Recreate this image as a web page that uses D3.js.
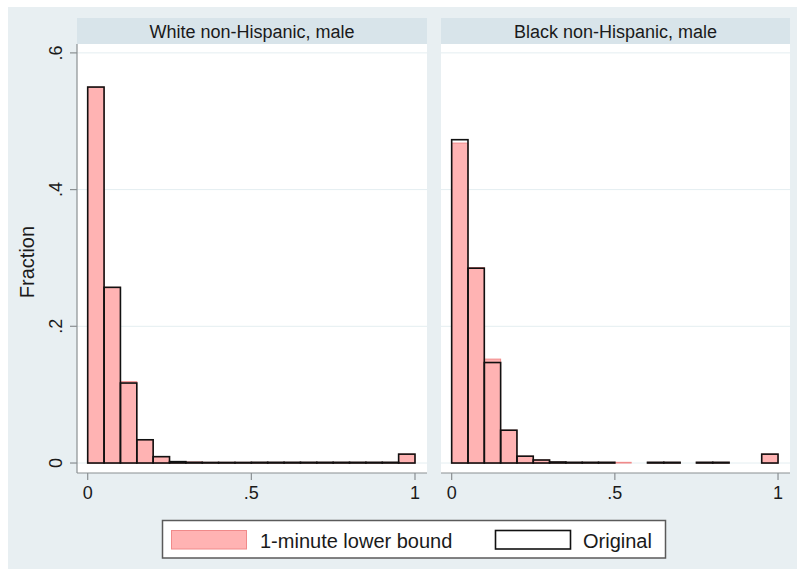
<!DOCTYPE html>
<html><head><meta charset="utf-8">
<script src="https://cdn.jsdelivr.net/npm/d3@7"></script>
<style>html,body{margin:0;padding:0;background:#fff;}svg{display:block;font-family:"Liberation Sans",Arial,Helvetica,sans-serif;}</style>
</head><body><svg id="chart" width="797" height="571"></svg>
<script>
// ---- data ----
const panels = ["White non-Hispanic, male", "Black non-Hispanic, male"];
const binStart = 0, binWidth = 0.05;
const whiteOriginal = [0.550,0.257,0.117,0.034,0.0093,0.002,0.001,0.0008,0.0008,0.0008,0.001,0.001,0.001,0.001,0.001,0.001,0.001,0.001,0.001,0.013];
const whiteLower    = [0.550,0.257,0.119,0.034,0.0093,0.002,0.0015,0.001,0.001,0.001,0.001,0.001,0.001,0.001,0.001,0.001,0.001,0.001,0.001,0.013];
const blackOriginal = [0.473,0.285,0.147,0.048,0.010,0.0044,0.0015,0.001,0.001,0.001,0,0,0.001,0.001,0,0.001,0.001,0,0,0.013];
const blackLower    = [0.468,0.286,0.152,0.048,0.010,0.0044,0.0015,0.001,0.001,0.001,0.001,0,0.001,0.001,0,0.001,0.001,0,0,0.013];
const yTicks = [0, 0.2, 0.4, 0.6];
const yTickLabels = ["0", ".2", ".4", ".6"];
const xTicks = [0, 0.5, 1];
const xTickLabels = ["0", ".5", "1"];
const legendLabels = ["1-minute lower bound", "Original"];
const yTitle = "Fraction";

const seriesByPanel = [
  {lower: whiteLower, orig: whiteOriginal},
  {lower: blackLower, orig: blackOriginal}
];

// ---- layout ----
const svg = d3.select("#chart");
const bg = "#e8eff2", strip = "#d8e4ea", txt = "#1a1a1a";
const pinkFill = "#ffb3b3", pinkStroke = "#f08a8a";

svg.append("rect").attr("x",8).attr("y",7).attr("width",789).attr("height",562).attr("fill",bg);

const plotTop = 44, plotBottom = 473, stripTop = 18;
const panelX = [[77,427],[441,790]];

const y = d3.scaleLinear().domain([-0.0146, 0.613]).range([plotBottom, plotTop]);

panels.forEach((name, p) => {
  const [x0, x1] = panelX[p];
  const x = d3.scaleLinear().domain([-0.0327, 1.0367]).range([x0, x1]);
  const g = svg.append("g");
  // strip
  g.append("rect").attr("x",x0).attr("y",stripTop).attr("width",x1-x0).attr("height",plotTop-stripTop).attr("fill",strip);
  g.append("text").attr("x",(x0+x1)/2).attr("y",37.5).attr("text-anchor","middle")
    .attr("font-size",18).attr("fill",txt).text(name);
  // plot area
  g.append("rect").attr("x",x0).attr("y",plotTop).attr("width",x1-x0).attr("height",plotBottom-plotTop).attr("fill","#fff");
  // gridlines
  g.selectAll(".grid").data(yTicks).join("line")
    .attr("x1",x0).attr("x2",x1).attr("y1",d=>y(d)).attr("y2",d=>y(d))
    .attr("stroke","#e4eef1").attr("stroke-width",1);
  // bars
  const s = seriesByPanel[p];
  const lowerData = s.lower.map((v,i)=>({i,v})).filter(d=>d.v>0);
  const origData = s.orig.map((v,i)=>({i,v})).filter(d=>d.v>0);
  g.selectAll(".lower").data(lowerData).join("rect")
    .attr("x",d=>x(binStart+d.i*binWidth))
    .attr("width",d=>x(binStart+(d.i+1)*binWidth)-x(binStart+d.i*binWidth))
    .attr("y",d=>y(d.v)).attr("height",d=>y(0)-y(d.v))
    .attr("fill",pinkFill).attr("stroke",pinkStroke).attr("stroke-width",1);
  g.selectAll(".orig").data(origData).join("rect")
    .attr("x",d=>x(binStart+d.i*binWidth))
    .attr("width",d=>x(binStart+(d.i+1)*binWidth)-x(binStart+d.i*binWidth))
    .attr("y",d=>y(d.v)).attr("height",d=>y(0)-y(d.v))
    .attr("fill","none").attr("stroke","#111").attr("stroke-width",1.6);
  // x axis
  g.append("line").attr("x1",x0).attr("x2",x1).attr("y1",plotBottom).attr("y2",plotBottom)
    .attr("stroke","#8a8f92").attr("stroke-width",1.2);
  g.selectAll(".xt").data(xTicks).join("line")
    .attr("x1",d=>x(d)).attr("x2",d=>x(d)).attr("y1",plotBottom).attr("y2",plotBottom+7)
    .attr("stroke","#8a8f92").attr("stroke-width",1.2);
  g.selectAll(".xl").data(xTicks).join("text")
    .attr("x",d=>x(d)).attr("y",499).attr("text-anchor","middle")
    .attr("font-size",18).attr("fill",txt).text((d,i)=>xTickLabels[i]);
  // y axis on first panel only
  if (p === 0) {
    g.append("line").attr("x1",x0).attr("x2",x0).attr("y1",plotTop).attr("y2",plotBottom)
      .attr("stroke","#8a8f92").attr("stroke-width",1.2);
    g.selectAll(".yt").data(yTicks).join("line")
      .attr("x1",x0-7).attr("x2",x0).attr("y1",d=>y(d)).attr("y2",d=>y(d))
      .attr("stroke","#8a8f92").attr("stroke-width",1.2);
    g.selectAll(".yl").data(yTicks).join("text")
      .attr("transform",d=>`translate(62,${y(d)}) rotate(-90)`)
      .attr("text-anchor","middle").attr("font-size",18).attr("fill",txt)
      .text((d,i)=>yTickLabels[i]);
  }
});

svg.append("text").attr("transform","translate(34,262) rotate(-90)")
  .attr("text-anchor","middle").attr("font-size",20).attr("fill",txt).text(yTitle);

// legend
const lg = svg.append("g");
lg.append("rect").attr("x",162.5).attr("y",520.5).attr("width",503).attr("height",37.5)
  .attr("fill","#fff").attr("stroke","#5a5a5a").attr("stroke-width",1.5);
lg.append("rect").attr("x",171.5).attr("y",530.5).attr("width",75).attr("height",18.5)
  .attr("fill",pinkFill).attr("stroke",pinkStroke).attr("stroke-width",1);
lg.append("text").attr("x",260).attr("y",548).attr("font-size",20).attr("fill",txt).text(legendLabels[0]);
lg.append("rect").attr("x",495.5).attr("y",530.5).attr("width",75).attr("height",18.5)
  .attr("fill","#fff").attr("stroke","#111").attr("stroke-width",1.6);
lg.append("text").attr("x",583).attr("y",548).attr("font-size",20).attr("fill",txt).text(legendLabels[1]);
</script></body></html>
